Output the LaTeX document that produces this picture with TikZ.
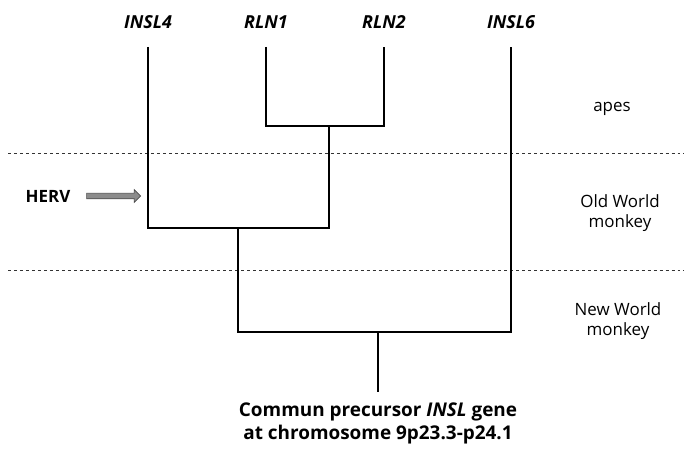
\documentclass[tikz,border=0pt]{standalone}
\usepackage{fontspec}
\setmainfont{Open Sans}
\usetikzlibrary{shapes.arrows}
\begin{document}
\begin{tikzpicture}[x=1bp,y=-1bp,
  leaf/.style={font=\fontsize{18}{20}\selectfont\bfseries\itshape},
  side/.style={font=\fontsize{17}{20}\selectfont, align=center},
  branch/.style={line width=1.3pt, black},
  era/.style={dashed, line width=0.6pt, black!80}]
\useasboundingbox (0,0) rectangle (684,455);
% leaf labels
\node[leaf] (insl4) at (148,22) {INSL4};
\node[leaf] (rln1) at (266,22) {RLN1};
\node[leaf] (rln2) at (384,22) {RLN2};
\node[leaf] (insl6) at (511,22) {INSL6};
% tops of branches
\coordinate (t4) at (148,47);
\coordinate (t1) at (266,47);
\coordinate (t2) at (384,47);
\coordinate (t6) at (511,47);
% junctions
\coordinate (r1) at (266,126);
\coordinate (r2) at (384,126);
\coordinate (rm) at (329,126);
\coordinate (a4) at (148,228);
\coordinate (ar) at (329,228);
\coordinate (am) at (238,228);
\coordinate (b1) at (238,332);
\coordinate (b6) at (511,332);
\coordinate (bm) at (378,332);
\coordinate (root) at (378,392);
% era lines
\coordinate (d1l) at (8,153); \coordinate (d1r) at (684,153);
\coordinate (d2l) at (8,270); \coordinate (d2r) at (684,270);
\draw[era] (d1l) -- (d1r);
\draw[era] (d2l) -- (d2r);
% tree
\draw[branch] (t1) -- (r1) -- (r2) -- (t2);
\draw[branch] (t4) -- (a4) -- (ar) -- (rm);
\draw[branch] (am) -- (b1) -- (b6) -- (t6);
\draw[branch] (bm) -- (root);
% era labels
\node[side] (apes) at (612,109) {apes};
\node[side] (owm) at (620,213) {Old World\\monkey};
\node[side] (nwm) at (618,321) {New World\\monkey};
% HERV
\node[font=\fontsize{17}{20}\selectfont\bfseries] (herv) at (48,196) {HERV};
\node[single arrow, draw=black!70, fill=black!45, line width=0.6pt,
  minimum height=54bp, single arrow head extend=3.5bp,
  inner sep=0pt, anchor=tip] (arr) at (141,196) {\rule{0pt}{5bp}};
% bottom text
\node[font=\fontsize{19}{23}\selectfont\bfseries, align=center, anchor=north] (prec) at (root |- 0,399)
  {Commun precursor \textit{INSL} gene\\at chromosome 9p23.3-p24.1};
\end{tikzpicture}
\end{document}
